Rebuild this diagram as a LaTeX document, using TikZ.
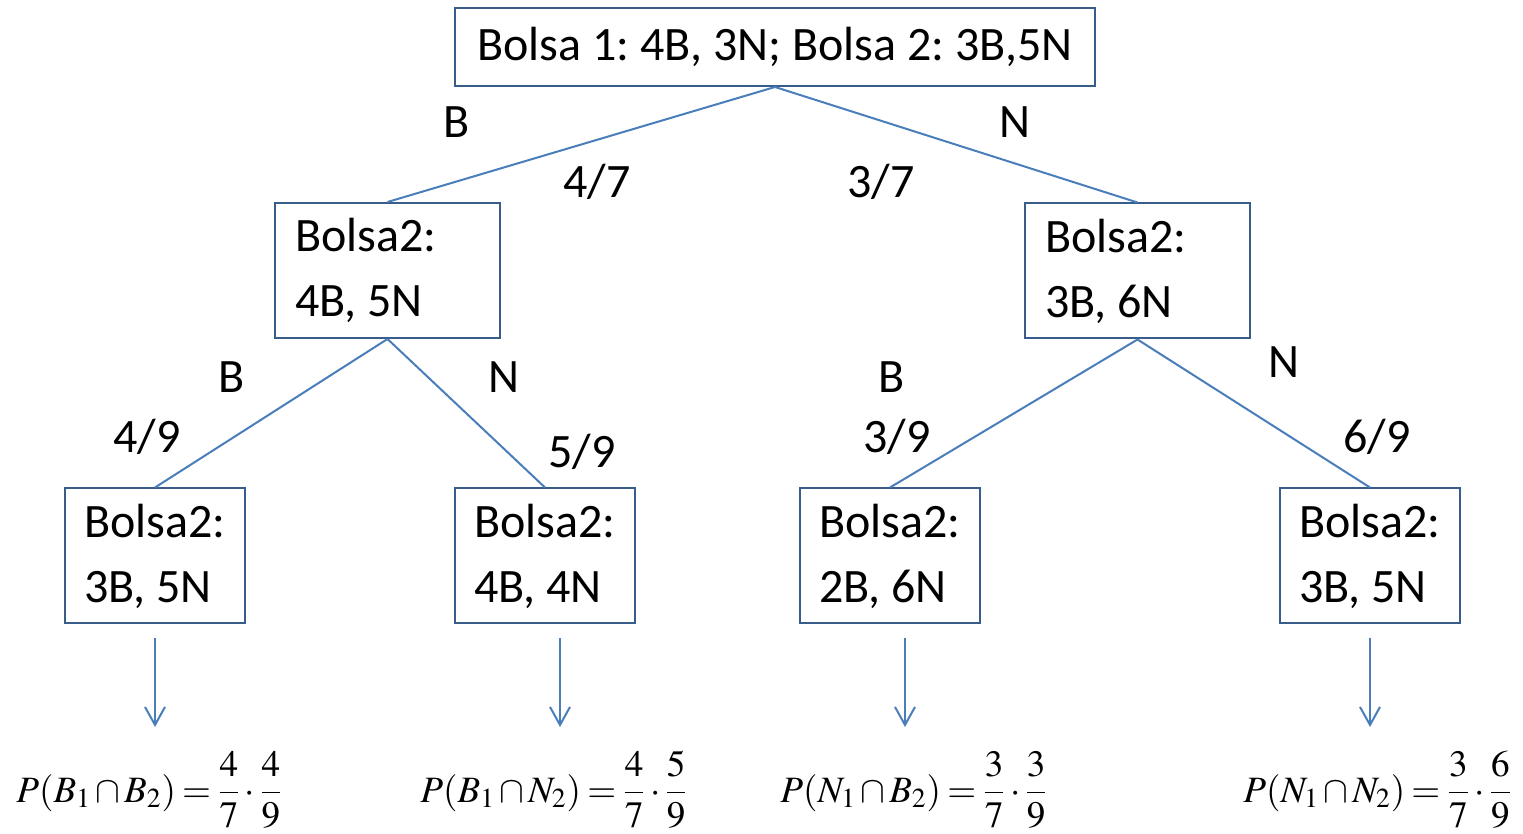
\documentclass[tikz,border=0pt]{standalone}
\usepackage{mathptmx}
\usepackage[no-math]{fontspec}
\setmainfont{Carlito}
\usetikzlibrary{arrows.meta}
\definecolor{edgeblue}{HTML}{4A7EBB}
\definecolor{boxblue}{HTML}{385D8A}
\frenchspacing
\begin{document}
\begin{tikzpicture}[x=0.5pt,y=-0.5pt,
  every node/.style={font=\fontsize{24}{28.5}\selectfont},
  rootbox/.style={draw=boxblue,line width=1pt,inner sep=0pt,
    minimum width=320pt,minimum height=39pt},
  midbag/.style={draw=boxblue,line width=1pt,inner xsep=10pt,inner ysep=0pt,
    text width=92.5pt,align=flush left,minimum height=67.5pt,
    execute at begin node={\vspace*{4pt}}},
  lowbag/.style={draw=boxblue,line width=1pt,inner xsep=9.5pt,inner ysep=0pt,
    text width=71pt,align=flush left,minimum height=67.5pt,
    execute at begin node={\vspace*{4pt}}},
  branch/.style={draw=edgeblue,line width=1pt},
  down/.style={draw=edgeblue,line width=1pt,-{Straight Barb[length=9pt,width=10pt]}},
  lab/.style={inner sep=0pt,anchor=base},
  prob/.style={inner sep=0pt,anchor=base west,font=\fontsize{18.6}{22}\selectfont,
    execute at begin node={\thickmuskip=3mu\medmuskip=2mu}}]
\useasboundingbox (0,0) rectangle (1523,834);

% bags
\node[rootbox] (root) at (775,47) {Bolsa 1: 4B, 3N; Bolsa 2: 3B,5N};
\node[midbag] (mB) at (387.5,270.5) {Bolsa2:\\4B, 5N};
\node[midbag] (mN) at (1137.5,271) {Bolsa2:\\3B, 6N};
\node[lowbag] (bBB) at (155,556) {Bolsa2:\\3B, 5N};
\node[lowbag] (bBN) at (545,556) {Bolsa2:\\4B, 4N};
\node[lowbag] (bNB) at (890,556) {Bolsa2:\\2B, 6N};
\node[lowbag] (bNN) at (1370,556) {Bolsa2:\\3B, 5N};

% branches
\draw[branch] (root.south) -- (mB.north);
\draw[branch] (root.south) -- (mN.north);
\draw[branch] (mB.south) -- (bBB.north);
\draw[branch] (mB.south) -- (bBN.north);
\draw[branch] (mN.south) -- (bNB.north);
\draw[branch] (mN.south) -- (bNN.north);

% branch labels
\node[lab] (l1) at (457,138) {B};
\node[lab] (l2) at (1015,138) {N};
\node[lab] (p1) at (597,198) {4/7};
\node[lab] (p2) at (881,198) {3/7};
\node[lab] (l3) at (232,393) {B};
\node[lab] (l4) at (504,393) {N};
\node[lab] (p3) at (147,453) {4/9};
\node[lab] (p4) at (582,468) {5/9};
\node[lab] (l5) at (892,393) {B};
\node[lab] (p5) at (897,453) {3/9};
\node[lab] (l6) at (1284,378) {N};
\node[lab] (p6) at (1377,453) {6/9};

% results
\node[prob] (f1) at (16,802) {$\displaystyle P(B_1\cap B_2)=\frac{4}{7}\cdot\frac{4}{9}$};
\node[prob] (f2) at (420,802) {$\displaystyle P(B_1\cap N_2)=\frac{4}{7}\cdot\frac{5}{9}$};
\node[prob] (f3) at (780,802) {$\displaystyle P(N_1\cap B_2)=\frac{3}{7}\cdot\frac{3}{9}$};
\node[prob] (f4) at (1243,802) {$\displaystyle P(N_1\cap N_2)=\frac{3}{7}\cdot\frac{6}{9}$};

% arrows to results
\coordinate (s1) at (155,638); \coordinate (e1) at (155,727);
\coordinate (s2) at (560,638); \coordinate (e2) at (560,727);
\coordinate (s3) at (905,638); \coordinate (e3) at (905,727);
\coordinate (s4) at (1370,638); \coordinate (e4) at (1370,727);
\draw[down] (s1) -- (e1);
\draw[down] (s2) -- (e2);
\draw[down] (s3) -- (e3);
\draw[down] (s4) -- (e4);
\end{tikzpicture}
\end{document}
